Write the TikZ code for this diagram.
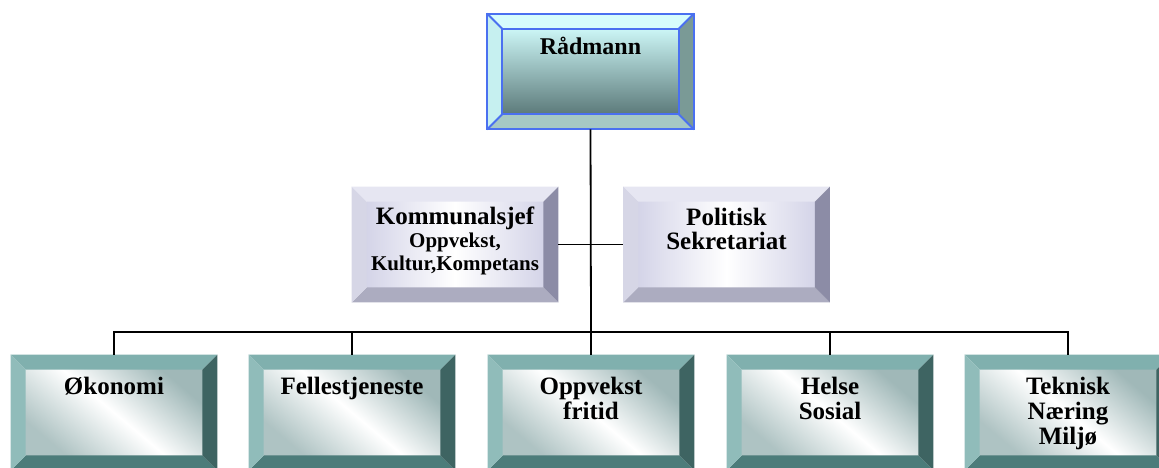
\documentclass[tikz,border=0pt]{standalone}
\usepackage{fontspec}
\setmainfont{Liberation Serif}
\usetikzlibrary{calc}

\definecolor{radT}{HTML}{D6FCFC}
\definecolor{radL}{HTML}{C6F0F0}
\definecolor{radR}{HTML}{7A9A96}
\definecolor{radB}{HTML}{A6C8C4}
\definecolor{radtop}{HTML}{CCF6F6}
\definecolor{radbot}{HTML}{5C7A7A}
\definecolor{radblue}{HTML}{4A70F0}
\definecolor{lavT}{HTML}{E6E6F2}
\definecolor{lavL}{HTML}{D6D6E6}
\definecolor{lavR}{HTML}{8C8CA6}
\definecolor{lavB}{HTML}{ACACC0}
\definecolor{lavedge}{HTML}{D4D4E8}
\definecolor{tealT}{HTML}{80B0AE}
\definecolor{tealL}{HTML}{90BCBA}
\definecolor{tealR}{HTML}{3E6462}
\definecolor{tealB}{HTML}{4C7C7A}
\definecolor{tealedge}{HTML}{A0B8B8}

\tikzset{
  box/.style={minimum width=103pt, minimum height=57.5pt, inner sep=0pt},
  lbl/.style={anchor=north, inner sep=0pt, align=center, font=\bfseries\fontsize{12.5}{12.5}\selectfont},
  conn/.style={line width=0.9pt, black},
  radface/.style={top color=radtop, bottom color=radbot},
  lavface/.style={left color=lavedge, right color=lavedge, middle color=white},
  tealface/.style={top color=tealedge, bottom color=tealedge!85, middle color=white, shading angle=-40},
  radline/.style={line width=1pt, radblue},
}

\newcommand\bevbox[6]{%
  \node[box] (#1) at (#2) {};
  \shade[#3face] ($(#1.north west)+(7.5pt,-7.5pt)$) rectangle ($(#1.south east)+(-7.5pt,7.5pt)$);
  \fill[#3T] (#1.north west) -- (#1.north east) -- ++(-7.5pt,-7.5pt) -- ($(#1.north west)+(7.5pt,-7.5pt)$) -- cycle;
  \fill[#3B] (#1.south west) -- (#1.south east) -- ++(-7.5pt,7.5pt) -- ($(#1.south west)+(7.5pt,7.5pt)$) -- cycle;
  \fill[#3L] (#1.north west) -- (#1.south west) -- ++(7.5pt,7.5pt) -- ($(#1.north west)+(7.5pt,-7.5pt)$) -- cycle;
  \fill[#3R] (#1.north east) -- (#1.south east) -- ++(-7.5pt,7.5pt) -- ($(#1.north east)+(-7.5pt,-7.5pt)$) -- cycle;
  \node[lbl,#5] (#1-t) at ($(#1.north)+(0,-#4)$) {#6};
}

\begin{document}
\begin{tikzpicture}[x=0.5pt,y=-0.5pt]
\useasboundingbox (0,0) rectangle (1159,467);

\bevbox{rad}{590.5,71.5}{rad}{11.5pt}{font=\bfseries\fontsize{12}{12}\selectfont}{Rådmann}
\draw[radline] (rad.north west) rectangle (rad.south east);
\draw[radline] ($(rad.north west)+(7.5pt,-7.5pt)$) rectangle ($(rad.south east)+(-7.5pt,7.5pt)$);
\draw[radline] (rad.north west) -- ++(7.5pt,-7.5pt) (rad.north east) -- ++(-7.5pt,-7.5pt)
  (rad.south west) -- ++(7.5pt,7.5pt) (rad.south east) -- ++(-7.5pt,7.5pt);

\bevbox{kom}{455,244.5}{lav}{10pt}{font=\bfseries\fontsize{10.5}{11.5}\selectfont}
  {{\fontsize{12.5}{12}\selectfont Kommunalsjef}\\ Oppvekst,\\ Kultur,Kompetans}
\bevbox{pol}{726.5,244.5}{lav}{10.5pt}{font=\bfseries\fontsize{12.5}{12}\selectfont}{Politisk\\ Sekretariat}

\bevbox{okonomi}{114,412.5}{teal}{11pt}{}{Økonomi}
\bevbox{felles}{352,412.5}{teal}{11pt}{}{Fellestjeneste}
\bevbox{oppvekst}{591,412.5}{teal}{11pt}{}{Oppvekst\\ fritid}
\bevbox{helse}{830,412.5}{teal}{11pt}{}{Helse\\ Sosial}
\bevbox{teknisk}{1068,412.5}{teal}{11pt}{}{Teknisk\\ Næring\\ Miljø}

\coordinate (bus) at (591,332);
\draw[conn] (rad.south) -- (bus);
\draw[conn] (kom.east) -- (pol.west);
\foreach \n in {okonomi,felles,oppvekst,helse,teknisk}
  \draw[conn] (\n.north) |- (bus);
\end{tikzpicture}
\end{document}
